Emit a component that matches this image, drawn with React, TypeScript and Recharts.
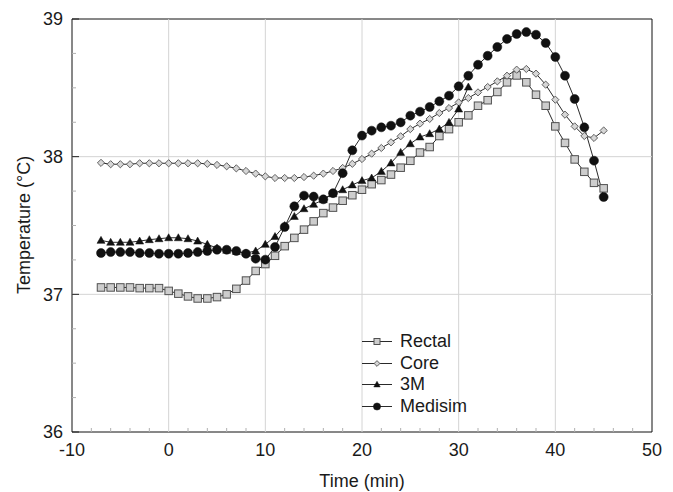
import React from 'react';
import { LineChart, Line, XAxis, YAxis, ReferenceLine, ReferenceArea, Label } from 'recharts';

const time = [-7, -6, -5, -4, -3, -2, -1, 0, 1, 2, 3, 4, 5, 6, 7, 8, 9, 10, 11, 12, 13, 14, 15, 16, 17, 18, 19, 20, 21, 22, 23, 24, 25, 26, 27, 28, 29, 30, 31, 32, 33, 34, 35, 36, 37, 38, 39, 40, 41, 42, 43, 44, 45];

const rectal = [37.05, 37.05, 37.05, 37.05, 37.045, 37.045, 37.045, 37.025, 37.005, 36.985, 36.97, 36.97, 36.98, 37.0, 37.04, 37.1, 37.17, 37.22, 37.28, 37.35, 37.41, 37.47, 37.53, 37.59, 37.63, 37.68, 37.72, 37.76, 37.8, 37.83, 37.87, 37.92, 37.97, 38.03, 38.07, 38.15, 38.2, 38.25, 38.3, 38.37, 38.41, 38.47, 38.54, 38.59, 38.54, 38.45, 38.37, 38.22, 38.1, 37.98, 37.89, 37.81, 37.77];

const core = [37.955, 37.945, 37.945, 37.945, 37.952, 37.952, 37.952, 37.952, 37.952, 37.952, 37.952, 37.948, 37.94, 37.93, 37.915, 37.896, 37.877, 37.857, 37.845, 37.845, 37.845, 37.852, 37.862, 37.877, 37.896, 37.918, 37.948, 37.983, 38.022, 38.063, 38.104, 38.148, 38.2, 38.24, 38.274, 38.317, 38.353, 38.394, 38.426, 38.467, 38.506, 38.547, 38.588, 38.632, 38.637, 38.603, 38.523, 38.414, 38.305, 38.22, 38.15, 38.136, 38.19];

const threeM = [37.392, 37.378, 37.378, 37.378, 37.387, 37.397, 37.404, 37.411, 37.411, 37.404, 37.387, 37.363, 37.336, 37.32, 37.312, 37.3, 37.315, 37.363, 37.42, 37.5, 37.566, 37.622, 37.654, 37.687, 37.73, 37.76, 37.795, 37.826, 37.845, 37.893, 37.954, 38.031, 38.094, 38.143, 38.167, 38.201, 38.249, 38.346, 38.506];

const medisim = [37.3, 37.307, 37.307, 37.307, 37.3, 37.3, 37.295, 37.295, 37.295, 37.3, 37.307, 37.315, 37.324, 37.324, 37.315, 37.295, 37.259, 37.252, 37.344, 37.489, 37.639, 37.717, 37.71, 37.69, 37.735, 37.88, 38.046, 38.153, 38.189, 38.213, 38.225, 38.249, 38.298, 38.327, 38.361, 38.402, 38.443, 38.511, 38.588, 38.668, 38.733, 38.797, 38.855, 38.891, 38.905, 38.886, 38.826, 38.724, 38.588, 38.419, 38.213, 37.971, 37.707];

const xTicks = [-10, -8, -6, -4, -2, 0, 2, 4, 6, 8, 10, 12, 14, 16, 18, 20, 22, 24, 26, 28, 30, 32, 34, 36, 38, 40, 42, 44, 46, 48, 50];
const yTicks = [36, 36.25, 36.5, 36.75, 37, 37.25, 37.5, 37.75, 38, 38.25, 38.5, 38.75, 39];
const xGrid = [0, 10, 20, 30, 40];
const yGrid = [37, 38];

const seriesNames = ['Rectal', 'Core', '3M', 'Medisim'];
const seriesKeys = ['rectal', 'core', 'm3', 'medisim'];

const data = time.map((t, i) => ({
  t,
  rectal: rectal[i],
  core: core[i],
  m3: i < threeM.length ? threeM[i] : null,
  medisim: medisim[i],
}));

const FONT = 'Arial, "Liberation Sans", sans-serif';
const TEXT = '#1a1a1a';
const X_MARGIN = 11;
const Y_MARGIN = 9;

const drawMarker = (kind: string, cx: number, cy: number, k: number, key?: any) => {
  if (kind === 'rectal') {
    const s = 7.5 * k;
    return <rect key={key} x={cx - s / 2} y={cy - s / 2} width={s} height={s} fill="#cdcdcd" stroke="#505050" strokeWidth={1} />;
  }
  if (kind === 'core') {
    const r = 3.6 * k;
    return <polygon key={key} points={`${cx},${cy - r} ${cx + r},${cy} ${cx},${cy + r} ${cx - r},${cy}`} fill="#d6d6d6" stroke="#606060" strokeWidth={1} />;
  }
  if (kind === 'm3') {
    const r = 4 * k;
    return <polygon key={key} points={`${cx},${cy - r} ${cx + r},${cy + r * 0.75} ${cx - r},${cy + r * 0.75}`} fill="#111" stroke="#111" strokeWidth={0.5} />;
  }
  return <circle key={key} cx={cx} cy={cy} r={4.5 * k} fill="#111" stroke="#111" strokeWidth={0.5} />;
};

const makeDot = (kind: string) => (props: any) => {
  const { cx, cy, index, value } = props;
  if (cx == null || cy == null || value == null || Number.isNaN(cy)) return <g key={`e-${kind}-${index}`} />;
  return drawMarker(kind, cx, cy, 1, `${kind}-${index}`);
};

const XTick = (props: any) => {
  const { x, y, payload } = props;
  const v = payload.value;
  const major = v % 10 === 0;
  const axisY = y - X_MARGIN;
  return (
    <g>
      {!major && <line x1={x} x2={x} y1={axisY} y2={axisY - 4} stroke="#b0b0b0" strokeWidth={1} />}
      {major && (
        <text x={x} y={y} dy="0.71em" textAnchor="middle" fontSize={18} fontFamily={FONT} fill={TEXT}>
          {v}
        </text>
      )}
    </g>
  );
};

const YTick = (props: any) => {
  const { x, y, payload } = props;
  const v = payload.value;
  const major = Number.isInteger(v);
  const axisX = x + Y_MARGIN;
  return (
    <g>
      <line x1={axisX} x2={axisX + (major ? 7 : 4)} y1={y} y2={y} stroke={major ? '#222' : '#b0b0b0'} strokeWidth={1} />
      {major && (
        <text x={x} y={y} dy="0.355em" textAnchor="end" fontSize={18} fontFamily={FONT} fill={TEXT}>
          {v}
        </text>
      )}
    </g>
  );
};

export default function App() {
  return (
    <div style={{ position: 'absolute', left: 0, top: 0, width: 673, height: 492, background: '#fff' }}>
      <LineChart width={673} height={492} data={data} margin={{ top: 19, right: 21, left: 0, bottom: 0 }}>
        <XAxis
          dataKey="t"
          type="number"
          domain={[-10, 50]}
          ticks={xTicks}
          interval={0}
          height={60}
          tickSize={0}
          tickMargin={X_MARGIN}
          tickLine={false}
          axisLine={false}
          tick={<XTick />}
          allowDataOverflow
        >
          <Label
            content={() => (
              <text x={362} y={481} textAnchor="middle" dominantBaseline="central" fontSize={18} fontFamily={FONT} fill={TEXT}>
                Time (min)
              </text>
            )}
          />
        </XAxis>
        <YAxis
          type="number"
          domain={[36, 39]}
          ticks={yTicks}
          interval={0}
          width={72}
          tickSize={0}
          tickMargin={Y_MARGIN}
          tickLine={false}
          axisLine={false}
          tick={<YTick />}
          allowDataOverflow
        >
          <Label
            content={() => (
              <text x={24} y={225} transform="rotate(-90 24 225)" textAnchor="middle" dominantBaseline="central" fontSize={18} fontFamily={FONT} fill={TEXT}>
                Temperature (°C)
              </text>
            )}
          />
        </YAxis>
        {xGrid.map((g) => (
          <ReferenceLine key={`gx${g}`} x={g} stroke="#d4d4d4" strokeWidth={1} />
        ))}
        {yGrid.map((g) => (
          <ReferenceLine key={`gy${g}`} y={g} stroke="#d4d4d4" strokeWidth={1} />
        ))}
        <ReferenceArea x1={-10} x2={50} y1={36} y2={39} fill="none" fillOpacity={0} stroke="#111" strokeWidth={1} />
        {seriesKeys.map((k, i) => (
          <Line
            key={k}
            dataKey={k}
            name={seriesNames[i]}
            type="linear"
            stroke="#2a2a2a"
            strokeWidth={1}
            dot={makeDot(k)}
            activeDot={false}
            connectNulls={false}
            isAnimationActive={false}
          />
        ))}
      </LineChart>
      <div style={{ position: 'absolute', left: 362, top: 331, fontFamily: FONT, fontSize: 18, color: TEXT }}>
        {seriesKeys.map((k, i) => (
          <div key={k} style={{ display: 'flex', alignItems: 'center', height: 21.5, lineHeight: '21.5px' }}>
            <svg width={30} height={21} style={{ display: 'block' }}>
              <line x1={0} x2={30} y1={10.5} y2={10.5} stroke="#2a2a2a" strokeWidth={1} />
              {drawMarker(k, 15, 10.5, 0.8)}
            </svg>
            <span style={{ marginLeft: 8, whiteSpace: 'nowrap' }}>{seriesNames[i]}</span>
          </div>
        ))}
      </div>
    </div>
  );
}
